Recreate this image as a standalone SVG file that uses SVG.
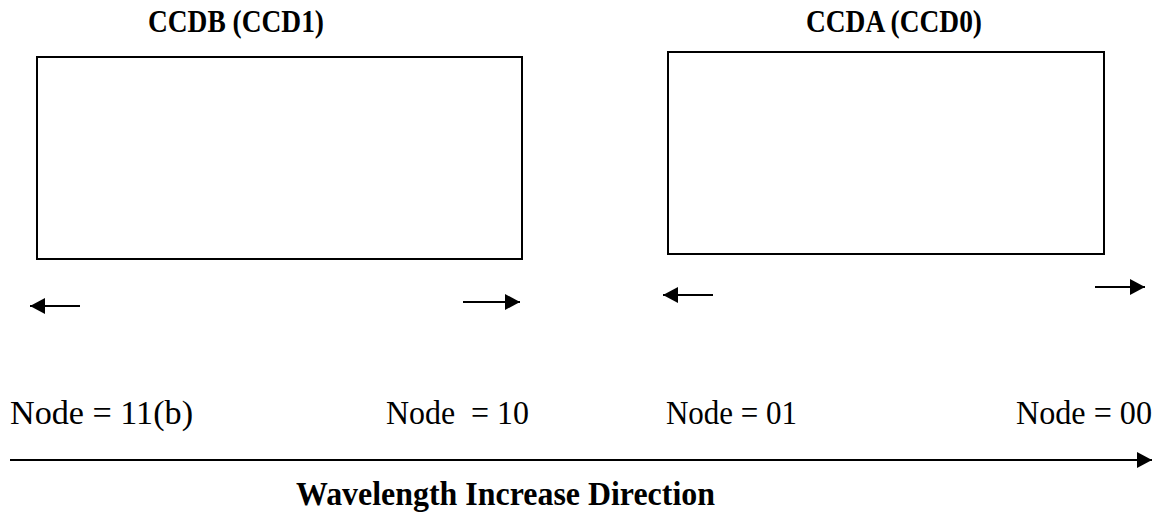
<svg xmlns="http://www.w3.org/2000/svg" width="1159" height="516" viewBox="0 0 1159 516">
<defs>
<style>
.t{font-family:"Liberation Serif","Times New Roman",serif;fill:#000}
.b{font-weight:bold;font-size:31px}
.c{font-weight:bold;font-size:34px}
.n{font-size:33px}
.box{fill:#fff;stroke:#000;stroke-width:2}
.ln{stroke:#000;stroke-width:2;fill:none}
</style>
<marker id="ah" viewBox="0 0 15 16" refX="15" refY="8" markerWidth="15" markerHeight="16" markerUnits="userSpaceOnUse" orient="auto"><path d="M0,0 L15,8 L0,16 Z" fill="#000"/></marker>
</defs>
<rect width="1159" height="516" fill="#fff"/>
<g id="ccdb">
<text class="t b" x="148" y="32" textLength="176" lengthAdjust="spacingAndGlyphs">CCDB (CCD1)</text>
<rect class="box" x="37" y="57" width="485" height="202"/>
</g>
<g id="ccda">
<text class="t b" x="806" y="32" textLength="176" lengthAdjust="spacingAndGlyphs">CCDA (CCD0)</text>
<rect class="box" x="668" y="52" width="436" height="202"/>
</g>
<g id="node11"><text class="t n" x="10" y="424" xml:space="preserve" textLength="183" lengthAdjust="spacingAndGlyphs">Node = 11(b)</text></g>
<g id="node10"><text class="t n" x="386" y="424" xml:space="preserve" textLength="143" lengthAdjust="spacingAndGlyphs">Node  = 10</text></g>
<g id="node01"><text class="t n" x="666" y="424" textLength="131" lengthAdjust="spacingAndGlyphs">Node = 01</text></g>
<g id="node00"><text class="t n" x="1016" y="424" textLength="136" lengthAdjust="spacingAndGlyphs">Node = 00</text></g>
<g id="connectors">
<line class="ln" x1="80" y1="306" x2="30" y2="306" marker-end="url(#ah)"/>
<line class="ln" x1="463" y1="302" x2="520" y2="302" marker-end="url(#ah)"/>
<line class="ln" x1="713" y1="295" x2="663" y2="295" marker-end="url(#ah)"/>
<line class="ln" x1="1095" y1="287" x2="1145" y2="287" marker-end="url(#ah)"/>
<line class="ln" x1="10" y1="460" x2="1152" y2="460" marker-end="url(#ah)"/>
</g>
<g id="caption"><text class="t c" x="296" y="505" textLength="419" lengthAdjust="spacingAndGlyphs">Wavelength Increase Direction</text></g>
</svg>
